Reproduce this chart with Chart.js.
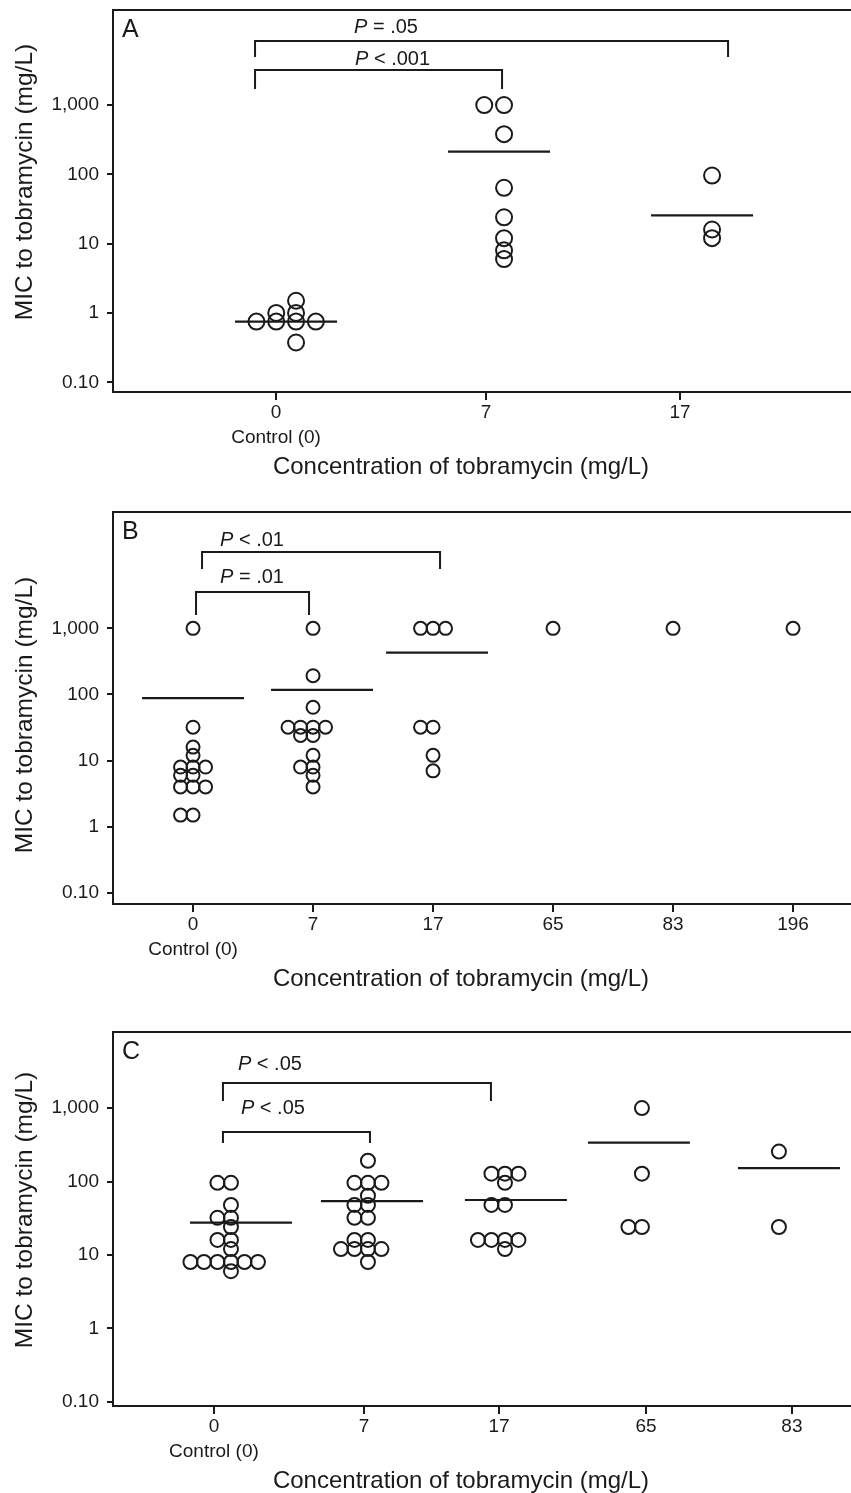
<!DOCTYPE html>
<html>
<head>
<meta charset="utf-8">
<script src="https://cdn.jsdelivr.net/npm/chart.js@4.4.1/dist/chart.umd.min.js"></script>
<style>
  html, body { margin: 0; padding: 0; background: #fff; }
  body { width: 851px; height: 1493px; position: relative; overflow: hidden; }
  canvas { position: absolute; left: 0; }
</style>
</head>
<body>
<canvas id="chartA" width="851" height="490" style="top:0px"></canvas>
<canvas id="chartB" width="851" height="510" style="top:490px"></canvas>
<canvas id="chartC" width="851" height="493" style="top:1000px"></canvas>
<script>
// shared axis text
const yTicks = [0.1, 1, 10, 100, 1000];
const yTickLabels = ['0.10', '1', '10', '100', '1,000'];
const controlLabel = 'Control (0)';
const xTitle = 'Concentration of tobramycin (mg/L)';
const yTitle = 'MIC to tobramycin (mg/L)';

// panel A
const catsA = ['0', '7', '17'];
const micA_0 = [0.375, 0.75, 0.75, 0.75, 0.75, 1, 1, 1.5];
const micA_7 = [6, 8, 12, 24, 64, 380, 1000, 1000];
const micA_17 = [12, 16, 96];
const centerA = [0.75, 212, 25.5];
const pLabelsA = ['P = .05', 'P < .001'];

// panel B
const catsB = ['0', '7', '17', '65', '83', '196'];
const micB_0 = [1.5, 1.5, 4, 4, 4, 6, 6, 8, 8, 8, 12, 16, 32, 1000];
const micB_7 = [4, 6, 8, 8, 12, 24, 24, 32, 32, 32, 32, 64, 192, 1000];
const micB_17 = [7, 12, 32, 32, 1000, 1000, 1000];
const micB_65 = [1000];
const micB_83 = [1000];
const micB_196 = [1000];
const centerB = [88, 117, 430, null, null, null];
const pLabelsB = ['P < .01', 'P = .01'];

// panel C
const catsC = ['0', '7', '17', '65', '83'];
const micC_0 = [6, 8, 8, 8, 8, 8, 8, 12, 16, 16, 24, 32, 32, 48, 96, 96];
const micC_7 = [8, 12, 12, 12, 12, 16, 16, 32, 32, 48, 48, 64, 96, 96, 96, 192];
const micC_17 = [12, 16, 16, 16, 16, 48, 48, 96, 128, 128, 128];
const micC_65 = [24, 24, 128, 1000];
const micC_83 = [24, 256];
const centerC = [27.5, 54, 56, 338, 152];
const pLabelsC = ['P < .05', 'P < .05'];

const INK = '#1a1a1a';
const FONT = '"Liberation Sans", Arial, Helvetica, sans-serif';
const PLOT_W = 738; // chart area width in px

// equal values sit side by side, like a dot plot
function spreadPoints(groups, step) {
  const pts = [];
  groups.forEach((vals, gi) => {
    const counts = {};
    vals.forEach(v => { counts[v] = (counts[v] || 0) + 1; });
    const seen = {};
    vals.forEach(v => {
      const k = counts[v];
      const j = seen[v] || 0;
      seen[v] = j + 1;
      pts.push({ x: gi + (j - Math.floor(k / 2)) * step, y: v });
    });
  });
  return pts;
}

// top border, panel letter, axis titles, significance brackets
const panelDeco = {
  id: 'panelDeco',
  afterDraw(chart, args, opts) {
    const { ctx, chartArea: ca } = chart;
    const x = chart.scales.x;
    ctx.save();
    ctx.strokeStyle = INK;
    ctx.fillStyle = INK;
    ctx.lineWidth = 2;
    ctx.beginPath();
    ctx.moveTo(ca.left - 1, ca.top);
    ctx.lineTo(ca.right, ca.top);
    ctx.stroke();

    ctx.font = '25px ' + FONT;
    ctx.textAlign = 'left';
    ctx.textBaseline = 'middle';
    ctx.fillText(opts.letter, ca.left + 9, ca.top + 20);

    // axis titles
    ctx.textAlign = 'center';
    ctx.font = '24px ' + FONT;
    ctx.fillText(xTitle, 461, ca.bottom + 75);
    ctx.save();
    ctx.translate(25, (ca.top + ca.bottom) / 2 + opts.yTitleShift);
    ctx.rotate(-Math.PI / 2);
    ctx.font = '24.5px ' + FONT;
    ctx.fillText(yTitle, 0, 0);
    ctx.restore();

    ctx.textAlign = 'left';
    opts.brackets.forEach((b, i) => {
      const x0 = x.getPixelForValue(b.from) + b.dx0;
      const x1 = x.getPixelForValue(b.to) + b.dx1;
      const yTop = ca.top + b.top;
      ctx.beginPath();
      ctx.moveTo(x0, yTop + b.drop);
      ctx.lineTo(x0, yTop);
      ctx.lineTo(x1, yTop);
      ctx.lineTo(x1, yTop + b.drop);
      ctx.stroke();

      const label = opts.labels[i];
      const tx = x0 + b.textDx, ty = yTop + b.textDy;
      ctx.font = 'italic 20px ' + FONT;
      ctx.fillText(label[0], tx, ty);
      const w = ctx.measureText(label[0]).width;
      ctx.font = '20px ' + FONT;
      ctx.fillText(label.slice(1), tx + w, ty);
    });
    ctx.restore();
  }
};

function makePanel(id, p) {
  const unit = PLOT_W / (p.xMax - p.xMin); // px per category step
  const centers = p.centers
    .map((v, i) => v == null ? null : { x: i + p.lineShift[i] / unit, y: v })
    .filter(Boolean);
  return new Chart(document.getElementById(id), {
    type: 'scatter',
    data: {
      datasets: [
        {
          data: spreadPoints(p.groups, p.stepPx / unit),
          pointStyle: 'circle',
          pointRadius: p.radius,
          pointBorderWidth: 2,
          pointBorderColor: INK,
          pointBackgroundColor: 'rgba(0,0,0,0)',
          clip: false
        },
        {
          data: centers,
          pointStyle: 'line',
          pointRadius: 51,
          pointBorderWidth: 2.2,
          pointBorderColor: INK,
          clip: false
        }
      ]
    },
    options: {
      responsive: false,
      animation: false,
      devicePixelRatio: 1,
      layout: { autoPadding: false, padding: { top: p.top, left: 0, right: 0, bottom: 0 } },
      events: [],
      plugins: {
        legend: { display: false },
        tooltip: { enabled: false },
        panelDeco: { letter: p.letter, brackets: p.brackets, labels: p.pLabels, yTitleShift: p.yTitleShift }
      },
      scales: {
        x: {
          type: 'linear',
          min: p.xMin,
          max: p.xMax,
          afterBuildTicks: s => { s.ticks = p.cats.map((c, i) => ({ value: i + p.tickShift[i] / unit })); },
          afterFit: s => { s.height = p.xHeight; s.paddingLeft = 0; s.paddingRight = 0; },
          grid: { drawOnChartArea: false, tickLength: 8, color: INK, lineWidth: 2 },
          border: { display: true, color: INK, width: 2 },
          ticks: {
            color: INK,
            autoSkip: false,
            maxRotation: 0,
            padding: 0,
            font: { family: FONT, size: 19, lineHeight: 25 / 19 },
            callback: (v, i) => i === 0 ? [p.cats[0], controlLabel] : p.cats[i]
          },
          title: { display: false }
        },
        y: {
          type: 'logarithmic',
          min: p.yMin,
          max: p.yMax,
          afterBuildTicks: s => { s.ticks = yTicks.map(v => ({ value: v })); },
          afterFit: s => { s.width = 113; s.paddingTop = 0; s.paddingBottom = 0; },
          grid: { drawOnChartArea: false, tickLength: 6, color: INK, lineWidth: 2 },
          border: { display: true, color: INK, width: 2 },
          ticks: {
            color: INK,
            padding: 8,
            font: { family: FONT, size: 19 },
            callback: (v, i) => yTickLabels[i]
          },
          title: { display: false }
        }
      }
    },
    plugins: [panelDeco]
  });
}

makePanel('chartA', {
  letter: 'A',
  cats: catsA,
  groups: [micA_0, micA_7, micA_17],
  centers: centerA,
  pLabels: pLabelsA,
  stepPx: 19.8, radius: 8,
  tickShift: [-20, -18, -32],
  lineShift: [-10, -5, -10],
  xMin: -0.88, xMax: 2.668,
  yMin: 0.0724, yMax: 23490,
  top: 10, xHeight: 98, yTitleShift: -19,
  brackets: [
    { from: 0, to: 2, dx0: -41, dx1: 16, top: 31, drop: 16, textDx: 99, textDy: -14 },
    { from: 0, to: 1, dx0: -41, dx1: -2, top: 60, drop: 19, textDx: 100, textDy: -11 }
  ]
});

makePanel('chartB', {
  letter: 'B',
  cats: catsB,
  groups: [micB_0, micB_7, micB_17, micB_65, micB_83, micB_196],
  centers: centerB,
  pLabels: pLabelsB,
  stepPx: 12.5, radius: 6.5,
  tickShift: [0, 0, 0, 0, 0, 0],
  lineShift: [0, 9, 4, 0, 0, 0],
  xMin: -0.667, xMax: 5.483,
  yMin: 0.0679, yMax: 57400,
  top: 22, xHeight: 96, yTitleShift: 7,
  brackets: [
    { from: 0, to: 2, dx0: 9, dx1: 7, top: 40, drop: 17, textDx: 18, textDy: -12 },
    { from: 0, to: 1, dx0: 3, dx1: -4, top: 80, drop: 23, textDx: 24, textDy: -15 }
  ]
});

makePanel('chartC', {
  letter: 'C',
  cats: catsC,
  groups: [micC_0, micC_7, micC_17, micC_65, micC_83],
  centers: centerC,
  pLabels: pLabelsC,
  stepPx: 13.5, radius: 7,
  tickShift: [-17, -4, -6, 4, 13],
  lineShift: [10, 4, 11, -3, 10],
  xMin: -0.861, xMax: 4.526,
  yMin: 0.0874, yMax: 10890,
  top: 32, xHeight: 87, yTitleShift: -9,
  brackets: [
    { from: 0, to: 2, dx0: -8, dx1: -14, top: 51, drop: 18, textDx: 15, textDy: -19 },
    { from: 0, to: 1, dx0: -8, dx1: 2, top: 100, drop: 11, textDx: 18, textDy: -24 }
  ]
});
</script>
</body>
</html>
